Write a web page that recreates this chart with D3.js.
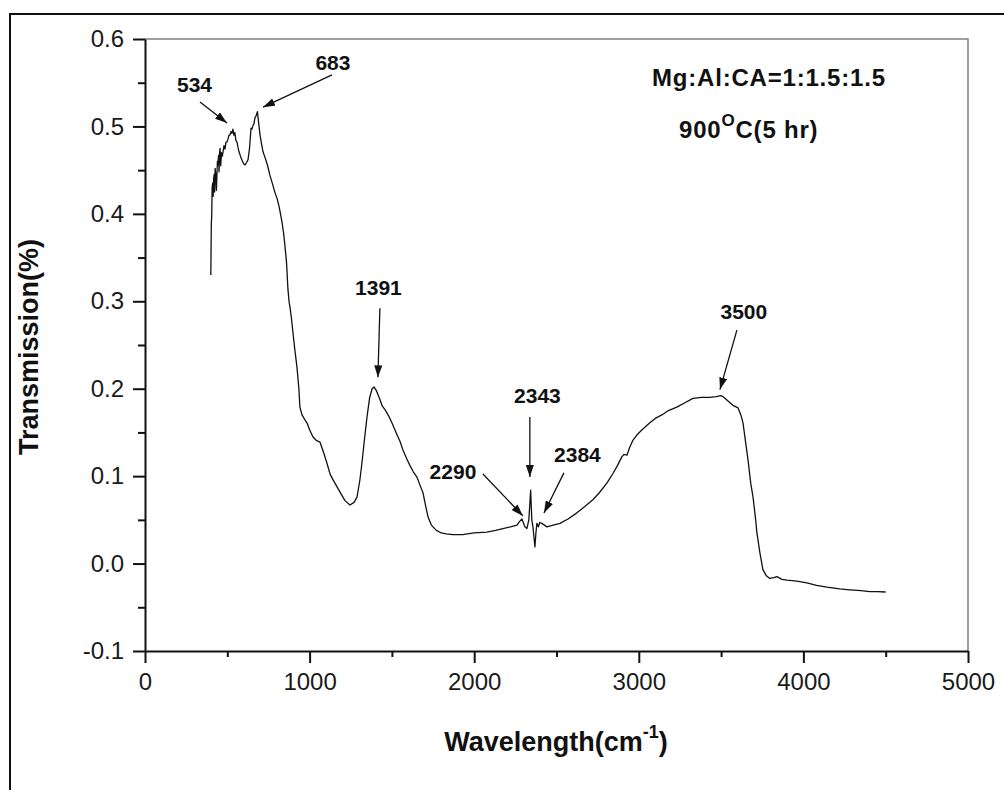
<!DOCTYPE html>
<html>
<head>
<meta charset="utf-8">
<script src="https://cdn.jsdelivr.net/npm/d3@7"></script>
<style>
  body { margin: 0; background: #fff; }
  svg { display: block; font-family: Arial, "Liberation Sans", sans-serif; }
</style>
</head>
<body>
<svg id="chart" width="1004" height="790"></svg>
<script>
// FTIR spectrum
const wavenumber = [
  400, 403, 405, 408, 411, 414, 417, 420, 423, 426, 430, 434, 437, 440, 443, 447, 450, 453, 456, 460,
  465, 470, 474, 480, 486, 492, 498, 505, 510, 516, 522, 528, 534, 540, 546, 552, 559, 565, 571, 580,
  590, 600, 608, 618, 626, 635, 644, 650, 656, 662, 668, 675, 683, 690, 699, 708, 717, 730, 745, 759,
  775, 790, 802, 815, 832, 842, 850, 860, 868, 875, 881, 890, 899, 910, 923, 935, 941, 954, 970, 984,
  1000, 1020, 1040, 1063, 1085, 1105, 1125, 1142, 1166, 1190, 1215, 1245, 1270, 1288, 1305, 1318, 1335, 1349, 1365, 1380,
  1391, 1405, 1427, 1442, 1458, 1480, 1500, 1525, 1549, 1567, 1590, 1610, 1630, 1652, 1670, 1689, 1705, 1720, 1740, 1770,
  1800, 1830, 1870, 1930, 2000, 2077, 2130, 2175, 2220, 2260, 2275, 2290, 2308, 2320, 2332, 2343, 2350, 2357, 2369, 2375,
  2381, 2390, 2398, 2411, 2442, 2480, 2521, 2570, 2624, 2670, 2721, 2760, 2806, 2843, 2870, 2897, 2910, 2928, 2945, 2964,
  2988, 3020, 3067, 3100, 3140, 3180, 3231, 3280, 3329, 3380, 3432, 3470, 3500, 3511, 3535, 3572, 3603, 3620, 3633, 3648,
  3664, 3680, 3694, 3710, 3717, 3736, 3754, 3775, 3796, 3820, 3839, 3870, 3900, 3960, 4021, 4080, 4143, 4220, 4282, 4350,
  4403, 4450, 4500
];
const transmission = [
  0.330, 0.390, 0.395, 0.430, 0.435, 0.420, 0.440, 0.445, 0.425, 0.452, 0.445, 0.427, 0.444, 0.460, 0.456, 0.467, 0.448, 0.470, 0.475, 0.455,
  0.470, 0.466, 0.471, 0.478, 0.474, 0.482, 0.482, 0.486, 0.490, 0.490, 0.494, 0.492, 0.497, 0.490, 0.493, 0.484, 0.482, 0.476, 0.471, 0.466,
  0.461, 0.457, 0.456, 0.459, 0.462, 0.475, 0.498, 0.497, 0.501, 0.503, 0.510, 0.512, 0.517, 0.505, 0.490, 0.480, 0.471, 0.464, 0.455, 0.444,
  0.434, 0.424, 0.418, 0.408, 0.391, 0.378, 0.364, 0.344, 0.315, 0.300, 0.293, 0.280, 0.264, 0.245, 0.225, 0.200, 0.179, 0.170, 0.165, 0.161,
  0.153, 0.145, 0.141, 0.139, 0.127, 0.115, 0.102, 0.096, 0.088, 0.080, 0.072, 0.067, 0.070, 0.076, 0.095, 0.115, 0.145, 0.168, 0.190, 0.200,
  0.202, 0.198, 0.188, 0.180, 0.176, 0.169, 0.161, 0.150, 0.140, 0.130, 0.120, 0.112, 0.105, 0.099, 0.090, 0.081, 0.066, 0.053, 0.044, 0.038,
  0.035, 0.034, 0.033, 0.033, 0.035, 0.036, 0.038, 0.040, 0.042, 0.044, 0.048, 0.051, 0.042, 0.040, 0.050, 0.084, 0.050, 0.042, 0.019, 0.035,
  0.046, 0.042, 0.047, 0.046, 0.042, 0.044, 0.046, 0.051, 0.058, 0.065, 0.073, 0.081, 0.092, 0.103, 0.112, 0.122, 0.125, 0.124, 0.133, 0.141,
  0.147, 0.153, 0.161, 0.166, 0.170, 0.175, 0.179, 0.184, 0.189, 0.190, 0.190, 0.191, 0.192, 0.191, 0.187, 0.181, 0.178, 0.170, 0.161, 0.140,
  0.118, 0.092, 0.076, 0.050, 0.036, 0.012, -0.007, -0.014, -0.017, -0.016, -0.015, -0.018, -0.019, -0.020, -0.022, -0.025, -0.027, -0.029, -0.030, -0.031,
  -0.032, -0.0322, -0.0325
];

const xTicks = [0, 1000, 2000, 3000, 4000, 5000];
const xMinor = [500, 1500, 2500, 3500, 4500];
const yTicks = [-0.1, 0.0, 0.1, 0.2, 0.3, 0.4, 0.5, 0.6];
const yMinor = [-0.05, 0.05, 0.15, 0.25, 0.35, 0.45, 0.55];

// peak annotations (data units)
const peakLabels = ['534', '683', '1391', '2290', '2343', '2384', '3500'];
const labelX = [301, 1142, 1418, 1871, 2384, 2627, 3638];
const labelY = [0.539, 0.5645, 0.307, 0.0968, 0.1837, 0.1162, 0.280];
const arrowFromX = [334, 1136, 1427, 2053, 2338, 2545, 3596];
const arrowFromY = [0.528, 0.559, 0.292, 0.1025, 0.1677, 0.1037, 0.267];
const arrowToX = [498, 717, 1415, 2296, 2338, 2424, 3493];
const arrowToY = [0.504, 0.522, 0.213, 0.0545, 0.099, 0.0579, 0.199];

const svg = d3.select('#chart');

const x = d3.scaleLinear().domain([0, 5000]).range([145, 968]);
const y = d3.scaleLinear().domain([-0.1, 0.6]).range([651, 39]);

// outer frame (runs off the right / bottom of the picture)
svg.append('rect')
    .attr('x', 10).attr('y', 14)
    .attr('width', 1010).attr('height', 800)
    .attr('fill', 'none')
    .attr('stroke', '#111')
    .attr('stroke-width', 2);

// top / right frame of the plot
svg.append('path')
    .attr('d', `M${x(0)},${y(0.6)}H${x(5000)}V${y(-0.1)}`)
    .attr('fill', 'none')
    .attr('stroke', '#808080')
    .attr('stroke-width', 1.5);

// minor ticks
svg.append('g')
    .attr('transform', `translate(0,${y(-0.1)})`)
    .call(d3.axisBottom(x).tickValues(xMinor).tickSize(6).tickFormat(''))
    .call(g => g.select('.domain').remove())
    .call(g => g.selectAll('line').attr('stroke', '#111').attr('stroke-width', 2));

svg.append('g')
    .attr('transform', `translate(${x(0)},0)`)
    .call(d3.axisLeft(y).tickValues(yMinor).tickSize(7).tickFormat(''))
    .call(g => g.select('.domain').remove())
    .call(g => g.selectAll('line').attr('stroke', '#111').attr('stroke-width', 2));

// major axes
const xAxis = svg.append('g')
    .attr('transform', `translate(0,${y(-0.1)})`)
    .call(d3.axisBottom(x).tickValues(xTicks).tickSize(12).tickSizeOuter(0).tickPadding(10)
        .tickFormat(d3.format('d')));

const yAxis = svg.append('g')
    .attr('transform', `translate(${x(0)},0)`)
    .call(d3.axisLeft(y).tickValues(yTicks).tickSize(12).tickSizeOuter(0).tickPadding(9)
        .tickFormat(d => d.toFixed(1)));

[xAxis, yAxis].forEach(g => {
    g.select('.domain').attr('stroke', '#111').attr('stroke-width', 2);
    g.selectAll('line').attr('stroke', '#111').attr('stroke-width', 2);
    g.selectAll('text')
        .attr('fill', '#1a1a1a')
        .style('font-size', '24px')
        .style('font-family', 'Arial, "Liberation Sans", sans-serif');
});

// spectrum
const points = wavenumber.map((w, i) => [w, transmission[i]]);
svg.append('path')
    .datum(points)
    .attr('fill', 'none')
    .attr('stroke', '#111')
    .attr('stroke-width', 1.3)
    .attr('stroke-linejoin', 'round')
    .attr('d', d3.line().x(d => x(d[0])).y(d => y(d[1])));

// arrowhead
svg.append('defs').append('marker')
    .attr('id', 'head')
    .attr('viewBox', '0 0 12 8')
    .attr('refX', 12).attr('refY', 4)
    .attr('markerWidth', 12).attr('markerHeight', 8)
    .attr('markerUnits', 'userSpaceOnUse')
    .attr('orient', 'auto')
    .append('path')
    .attr('d', 'M0,0L12,4L0,8Z')
    .attr('fill', '#111');

const annG = svg.append('g');
annG.selectAll('line')
    .data(peakLabels)
    .join('line')
    .attr('x1', (_d, i) => x(arrowFromX[i]))
    .attr('y1', (_d, i) => y(arrowFromY[i]))
    .attr('x2', (_d, i) => x(arrowToX[i]))
    .attr('y2', (_d, i) => y(arrowToY[i]))
    .attr('stroke', '#111')
    .attr('stroke-width', 1.3)
    .attr('marker-end', 'url(#head)');

annG.selectAll('text')
    .data(peakLabels)
    .join('text')
    .text(d => d)
    .attr('x', (_d, i) => x(labelX[i]))
    .attr('y', (_d, i) => y(labelY[i]))
    .attr('text-anchor', 'middle')
    .style('font-size', '21px')
    .style('font-weight', 'bold')
    .style('fill', '#111');

// sample info
const info = svg.append('g')
    .style('font-size', '24px')
    .style('font-weight', 'bold')
    .style('fill', '#111')
    .style('letter-spacing', '0.8px');

info.append('text')
    .attr('x', 652).attr('y', 86)
    .text('Mg:Al:CA=1:1.5:1.5');

const t2 = info.append('text').attr('x', 679).attr('y', 138);
t2.append('tspan').text('900');
t2.append('tspan').attr('dy', -12).style('font-size', '17px').text('O');
t2.append('tspan').attr('dy', 12).text('C(5 hr)');

// axis titles
const xt = svg.append('text')
    .attr('x', 556).attr('y', 751)
    .attr('text-anchor', 'middle')
    .style('font-size', '27px')
    .style('font-weight', 'bold')
    .style('fill', '#111');
xt.append('tspan').text('Wavelength(cm');
xt.append('tspan').attr('dy', -13).style('font-size', '18px').text('-1');
xt.append('tspan').attr('dy', 13).text(')');

svg.append('text')
    .attr('transform', 'translate(38,347) rotate(-90)')
    .attr('text-anchor', 'middle')
    .style('font-size', '27px')
    .style('font-weight', 'bold')
    .style('fill', '#111')
    .text('Transmission(%)');
</script>
</body>
</html>
